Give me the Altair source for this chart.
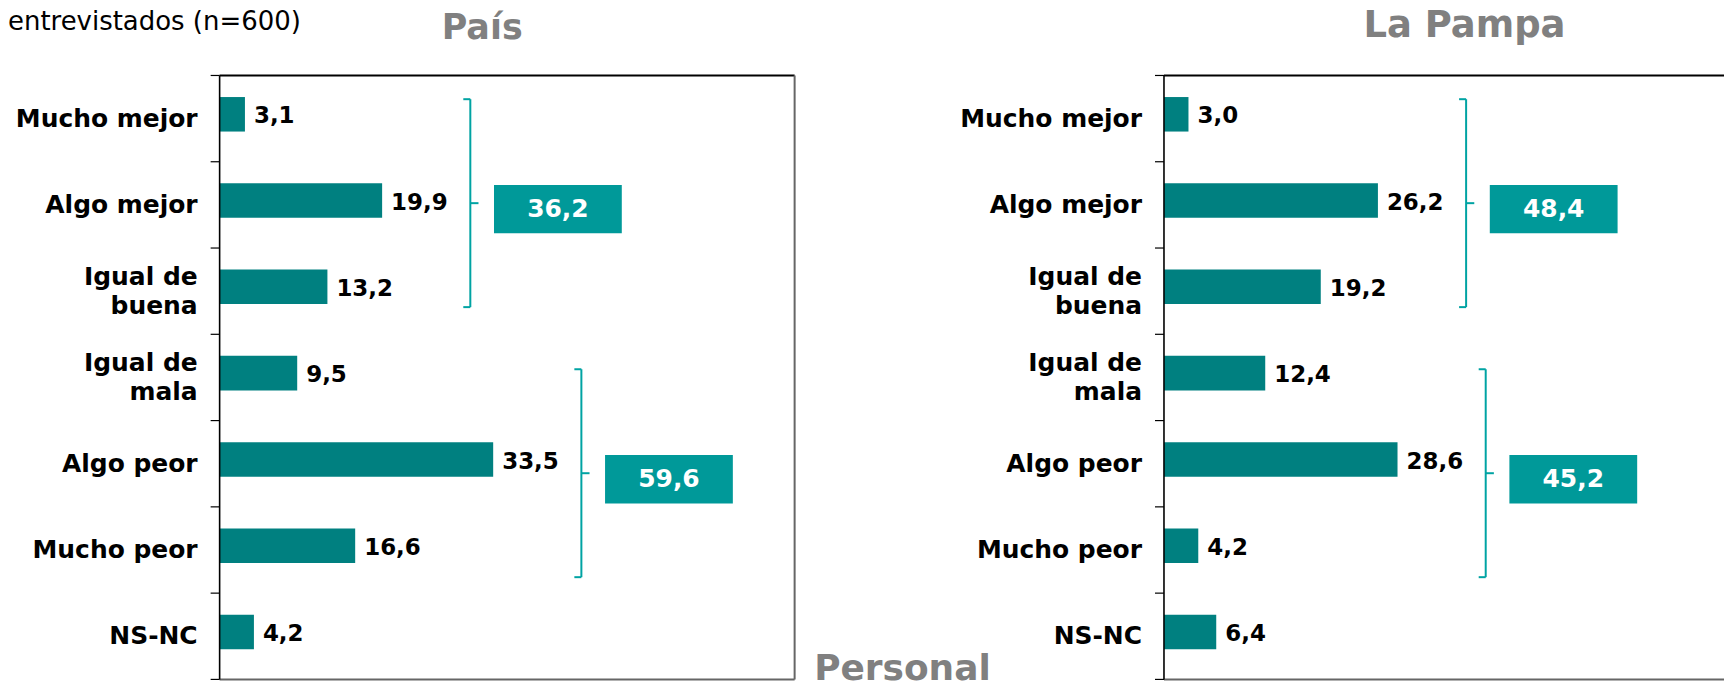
import altair as alt
import pandas as pd

# ---------------- data ----------------
categories = ["Mucho mejor", "Algo mejor", "Igual de buena", "Igual de mala",
              "Algo peor", "Mucho peor", "NS-NC"]
pais_values = [3.1, 19.9, 13.2, 9.5, 33.5, 16.6, 4.2]
pampa_values = [3.0, 26.2, 19.2, 12.4, 28.6, 4.2, 6.4]
group_first = [0, 3]
group_last = [2, 5]
pais_totals = [36.2, 59.6]
pampa_totals = [48.4, 45.2]
subtitle_text = "entrevistados (n=600)"
footer_text = "Personal"

# ---------------- style ----------------
BAR = "#008080"
BOX = "#009999"
BRACKET = "#00A3A3"
GREY = "#808080"
FONT = "DejaVu Sans"
PX_PER_UNIT = 8.18
PLOT_H = 605
LEFT_W = 576
RIGHT_W = 561
GROUP_NUDGE = [-0.02, 0.11]
BAR_SHIFT = -0.05
BAR_HALF = 0.2
VAL_SHIFT = -0.025
LABEL_SHIFT = 0.0
LINE_H = 29


def fmt(v):
    return f"{v:.1f}".replace(".", ",")


def display_label(c):
    pads = {"buena": "\u2002", "mala": "\u2002\u00a0"}
    if c.startswith("Igual de "):
        rest = c[len("Igual de "):]
        return "Igual de\n" + rest + pads.get(rest, "")
    return c


def panel(values, totals, width, title, title_x, title_y, title_size, right_border, extra_texts):
    n = len(categories)
    band_px = PLOT_H / n
    xmax = width / PX_PER_UNIT
    xs = alt.Scale(domain=[0, xmax], nice=False, zero=True)
    yq = alt.Scale(domain=[-0.5, n - 0.5], reverse=True, nice=False, zero=False)

    def X(f):
        return alt.X(f"{f}:Q", scale=xs, axis=None)

    def Y(f):
        return alt.Y(f"{f}:Q", scale=yq, axis=None)

    disp = [display_label(c) for c in categories]
    df = pd.DataFrame({"cat": categories, "value": values,
                       "label": [fmt(v) for v in values], "disp": disp})
    df["idx"] = range(n)
    df["zero"] = 0.0
    df["y1"] = df["idx"] + BAR_SHIFT - BAR_HALF
    df["y2"] = df["idx"] + BAR_SHIFT + BAR_HALF
    df["yc"] = df["idx"] + VAL_SHIFT
    nlines = [d.count("\n") + 1 for d in disp]
    df["ly"] = [i + LABEL_SHIFT - (k - 1) * LINE_H / 2 / band_px
                for i, k in zip(range(n), nlines)]

    bars = alt.Chart(df).mark_rect(color=BAR).encode(
        x=X("zero"), x2="value:Q", y=Y("y1"), y2="y2:Q")
    vals = alt.Chart(df).mark_text(align="left", baseline="middle", dx=9, font=FONT,
                                   fontWeight="bold", fontSize=23, color="black").encode(
        x=X("value"), y=Y("yc"), text="label:N")
    cats = alt.Chart(df).mark_text(align="right", baseline="middle", font=FONT,
                                   fontWeight="bold", fontSize=25, color="black",
                                   lineBreak="\n", lineHeight=LINE_H).encode(
        x=alt.value(-22), y=Y("ly"), text="disp:N")

    bdf = pd.DataFrame({"b": [k - 0.5 for k in range(n + 1)]})
    ticks = alt.Chart(bdf).mark_rule(color="black", strokeWidth=1.2).encode(
        x=alt.value(-9), x2=alt.value(0), y=Y("b"))

    rows = []
    for g in range(len(group_first)):
        f, l = group_first[g], group_last[g]
        bx = max(values[f:l + 1]) + 10.8
        top = f - 0.205 + GROUP_NUDGE[g]
        bottom = l + 0.205 + GROUP_NUDGE[g]
        mid = (top + bottom) / 2
        boxc = mid + 0.07
        bx1 = bx + 2.9
        bx2 = bx1 + 15.65
        rows.append(dict(bx=bx, top=top, bottom=bottom, mid=mid, hook=bx - 0.86,
                         tick=bx + 1.0, bx1=bx1, bx2=bx2, bxc=(bx1 + bx2) / 2,
                         by1=boxc - 0.28, by2=boxc + 0.28, byc=boxc,
                         label=fmt(totals[g])))
    adf = pd.DataFrame(rows)

    base = alt.Chart(adf)
    rule = dict(color=BRACKET, strokeWidth=2)
    vline = base.mark_rule(**rule).encode(x=X("bx"), y=Y("top"), y2="bottom:Q")
    htop = base.mark_rule(**rule).encode(x=X("hook"), x2="bx:Q", y=Y("top"))
    hbot = base.mark_rule(**rule).encode(x=X("hook"), x2="bx:Q", y=Y("bottom"))
    hmid = base.mark_rule(**rule).encode(x=X("bx"), x2="tick:Q", y=Y("mid"))
    boxes = base.mark_rect(color=BOX).encode(x=X("bx1"), x2="bx2:Q", y=Y("by1"), y2="by2:Q")
    boxt = base.mark_text(font=FONT, fontWeight="bold", fontSize=25, color="white",
                          align="center", baseline="middle").encode(
        x=X("bxc"), y=Y("byc"), text="label:N")

    one = pd.DataFrame({"t": [title]})
    frame = [
        alt.Chart(one).mark_rule(color="#666666", strokeWidth=2).encode(
            x=alt.value(0), x2=alt.value(width), y=alt.value(PLOT_H)),
        alt.Chart(one).mark_rule(color="black", strokeWidth=2).encode(
            x=alt.value(0), x2=alt.value(width), y=alt.value(0)),
        alt.Chart(one).mark_rule(color="black", strokeWidth=1.6).encode(
            x=alt.value(0), y=alt.value(0), y2=alt.value(PLOT_H)),
    ]
    if right_border:
        frame.append(alt.Chart(one).mark_rule(color="#666666", strokeWidth=2).encode(
            x=alt.value(width), y=alt.value(0), y2=alt.value(PLOT_H)))

    ttl = alt.Chart(one).mark_text(font=FONT, fontWeight="bold", fontSize=title_size,
                                   color=GREY, align="center", baseline="alphabetic").encode(
        text="t:N", x=alt.value(title_x), y=alt.value(title_y))

    layers = [bars, vals, cats, ticks, vline, htop, hbot, hmid, boxes, boxt] + frame + [ttl] + extra_texts
    return alt.layer(*layers).properties(width=width, height=PLOT_H)


sub_df = pd.DataFrame({"t": [subtitle_text]})
subtitle = alt.Chart(sub_df).mark_text(font=FONT, fontSize=26, color="black",
                                       align="left", baseline="alphabetic").encode(
    text="t:N", x=alt.value(-212), y=alt.value(-46))
foot_df = pd.DataFrame({"t": [footer_text]})
footer = alt.Chart(foot_df).mark_text(font=FONT, fontWeight="bold", fontSize=36, color=GREY,
                                      align="center", baseline="alphabetic").encode(
    text="t:N", x=alt.value(684), y=alt.value(PLOT_H + 1))

left = panel(pais_values, pais_totals, LEFT_W, "País", 263, -37, 35, True, [subtitle, footer])
right = panel(pampa_values, pampa_totals, RIGHT_W, "La Pampa", 301, -39, 37, False, [])

chart = alt.hconcat(left, right, spacing=370, bounds="flush").properties(
    padding={"top": -2, "left": 0, "right": 0, "bottom": -6}
).configure_view(stroke=None)

chart.save("out.html", embed_options={"renderer": "svg", "actions": False})
